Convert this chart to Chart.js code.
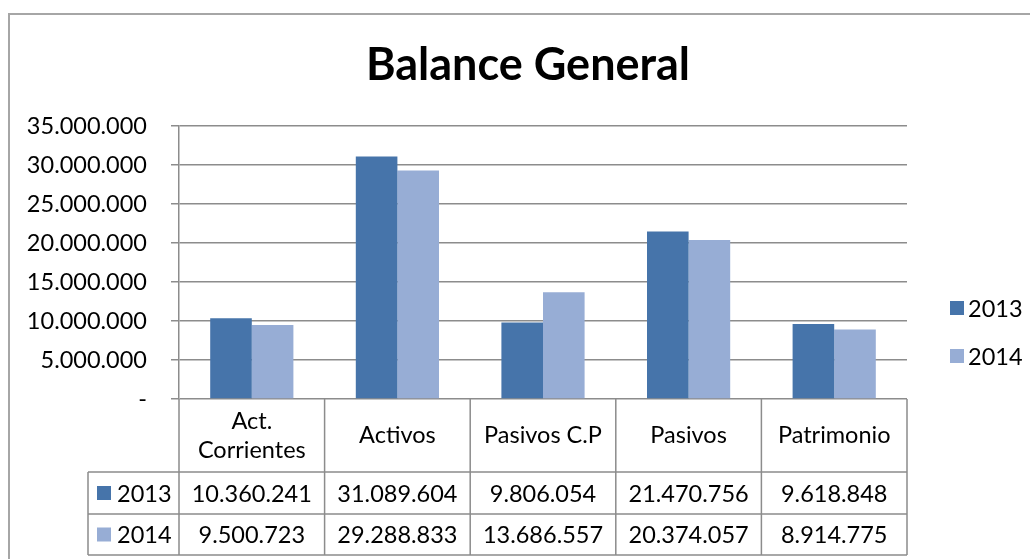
<!DOCTYPE html>
<html>
<head>
<meta charset="utf-8">
<script src="https://cdn.jsdelivr.net/npm/chart.js@4/dist/chart.umd.min.js"></script>
<style>
html,body{margin:0;padding:0;background:#fff;}
#wrap{width:1030px;height:559px;position:relative;}
</style>
</head>
<body>
<div id="wrap"><canvas id="c" width="1030" height="559"></canvas></div>
<script>
const categories = [["Act.", "Corrientes"], "Activos", "Pasivos C.P", "Pasivos", "Patrimonio"];
const series2013 = [10360241, 31089604, 9806054, 21470756, 9618848];
const series2014 = [9500723, 29288833, 13686557, 20374057, 8914775];
const seriesNames = ["2013", "2014"];
const colors = ["#4674AA", "#97ADD5"];
const yMax = 35000000;
const yStep = 5000000;

const FONT = "Lato, 'Open Sans', sans-serif";
const GRID = "#8c8c8c";

function fmt(n) {
  if (n === 0) return "-";
  return String(Math.round(n)).replace(/\B(?=(\d{3})+(?!\d))/g, ".");
}

const tablePlugin = {
  id: "tablePlugin",
  afterDraw(chart) {
    const ctx = chart.ctx;
    const area = chart.chartArea;
    const xs = chart.scales.x;
    const n = categories.length;
    const cw = (area.right - area.left) / n;
    const top = area.bottom;
    const r1 = top + 73, r2 = r1 + 42, r3 = r2 + 41;
    const legLeft = 88;
    ctx.save();
    // outer border
    ctx.strokeStyle = "#a6a6a6";
    ctx.lineWidth = 2;
    ctx.beginPath();
    ctx.moveTo(9, 560); ctx.lineTo(9, 14); ctx.lineTo(1031, 14);
    ctx.stroke();
    // title
    ctx.fillStyle = "#000";
    ctx.font = "bold 45px " + FONT;
    ctx.textAlign = "center";
    ctx.textBaseline = "middle";
    ctx.fillText("Balance General", 528, 65);
    // table lines
    ctx.strokeStyle = GRID;
    ctx.lineWidth = 1.5;
    ctx.beginPath();
    for (let i = 0; i <= n; i++) {
      const x = area.left + i * cw;
      ctx.moveTo(x, top); ctx.lineTo(x, r3);
    }
    [r1, r2, r3].forEach(y => { ctx.moveTo(legLeft, y); ctx.lineTo(area.right, y); });
    ctx.moveTo(legLeft, r1); ctx.lineTo(legLeft, r3);
    ctx.stroke();
    // header text
    ctx.font = "23.5px " + FONT;
    ctx.fillStyle = "#000";
    ctx.textAlign = "center";
    ctx.textBaseline = "middle";
    for (let i = 0; i < n; i++) {
      const cx = xs.getPixelForValue(i);
      const lab = categories[i];
      if (Array.isArray(lab)) {
        const mid = (top + r1) / 2;
        ctx.fillText(lab[0], cx, mid - 14.5);
        ctx.fillText(lab[1], cx, mid + 14.5);
      } else {
        ctx.fillText(lab, cx, (top + r1) / 2);
      }
    }
    // data rows
    const rows = [[r1, r2], [r2, r3]];
    chart.data.datasets.forEach((ds, k) => {
      const cy = (rows[k][0] + rows[k][1]) / 2;
      for (let i = 0; i < n; i++) {
        ctx.textAlign = "center";
        ctx.fillStyle = "#000";
        ctx.fillText(fmt(ds.data[i]), xs.getPixelForValue(i), cy + 1);
      }
      ctx.fillStyle = ds.backgroundColor;
      ctx.fillRect(97, cy - 7, 14, 14);
      ctx.fillStyle = "#000";
      ctx.textAlign = "left";
      ctx.fillText(ds.label, 117, cy + 1);
      // right legend
      const ly = [308, 356][k];
      ctx.fillStyle = ds.backgroundColor;
      ctx.fillRect(950, ly - 7, 14, 14);
      ctx.fillStyle = "#000";
      ctx.fillText(ds.label, 968, ly + 1);
    });
    ctx.restore();
  }
};

new Chart(document.getElementById("c"), {
  type: "bar",
  data: {
    labels: categories,
    datasets: [
      { label: seriesNames[0], data: series2013, backgroundColor: colors[0] },
      { label: seriesNames[1], data: series2014, backgroundColor: colors[1] }
    ]
  },
  options: {
    responsive: false,
    animation: false,
    layout: { padding: { left: 0, right: 123, top: 126, bottom: 160 } },
    plugins: { legend: { display: false }, title: { display: false }, tooltip: { enabled: false } },
    datasets: { bar: { categoryPercentage: 2 / 3.5, barPercentage: 1 } },
    scales: {
      x: { display: false, offset: true },
      y: {
        min: 0, max: yMax,
        afterFit(scale) { scale.width = 179; },
        ticks: { stepSize: yStep, padding: 24, color: "#000", font: { family: FONT, size: 23.5 }, callback: v => fmt(v) },
        grid: { color: GRID, lineWidth: 1.5, tickLength: 8, drawTicks: true },
        border: { display: true, color: GRID, width: 1.5 }
      }
    }
  },
  plugins: [tablePlugin]
});
</script>
</body>
</html>
